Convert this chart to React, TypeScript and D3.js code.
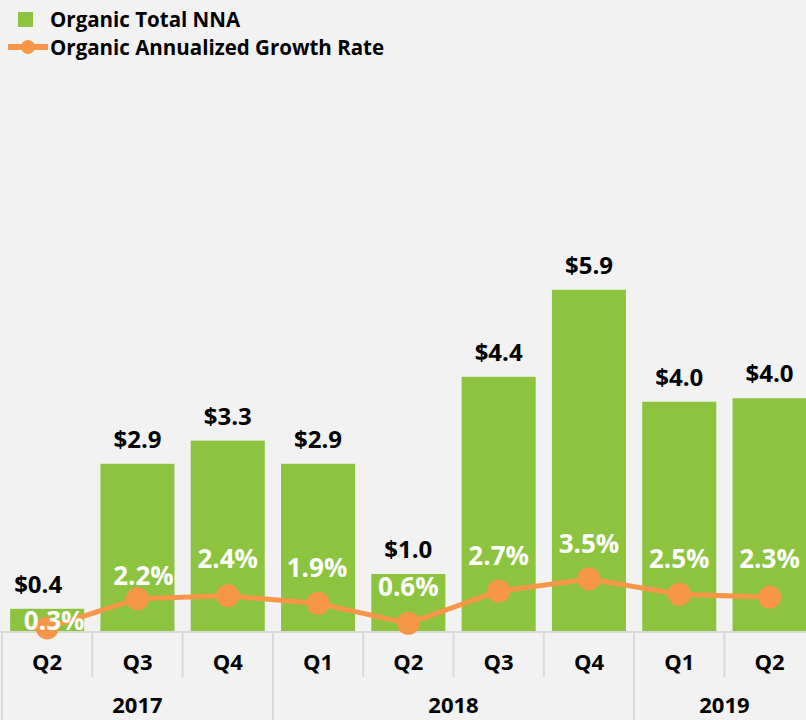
import React from "react";
import * as d3 from "d3";

const quarters = ["Q2", "Q3", "Q4", "Q1", "Q2", "Q3", "Q4", "Q1", "Q2"];
const years = [
  { label: "2017", start: 0, end: 3 },
  { label: "2018", start: 3, end: 7 },
  { label: "2019", start: 7, end: 9 },
];
const nnaValues = [0.4, 2.9, 3.3, 2.9, 1.0, 4.4, 5.9, 3.97, 4.03];
const growthValues = [0.3, 2.2, 2.4, 1.9, 0.6, 2.7, 3.5, 2.5, 2.3];
const pctLabelDx = [7, 6, 0, -1, 0, 0, 0, 0, 0];
const pctLabelDy = [2, -14, -28, -26, -27, -26, -26, -26, -29];
const barLabelDx = [-9, 0, 0, 0, 0, 0, 0, 0, 0];

const W = 806;
const H = 720;
const GREEN = "#8cc43f";
const ORANGE = "#f79646";
const GRID = "#d9d9d9";
const FONT = "'Open Sans', sans-serif";

export default function App() {
  const idx = quarters.map((_, i) => i);
  const x = d3
    .scaleBand<number>()
    .domain(idx)
    .range([2, 814.7])
    .paddingInner(0.18)
    .paddingOuter(0.09);
  const step = x.step();
  const yBar = d3.scaleLinear().domain([0, 10]).range([632, 52]);
  const yPct = d3.scaleLinear().domain([0, 4]).range([632.5, 571.3]);
  const cx = (i: number) => (x(0) as number) + i * step + x.bandwidth() / 2;
  const boundary = (i: number) => (x(0) as number) - step * 0.09 + i * step;
  const baseY = yBar(0);

  const line = d3
    .line<number>()
    .x((_, i) => cx(i))
    .y((d) => yPct(d));

  const yearBounds = new Set(years.map((y) => y.start));

  return (
    <svg
      width={W}
      height={H}
      style={{ position: "absolute", left: 0, top: 0, background: "#f2f2f2" }}
      fontFamily={FONT}
    >
      <rect x={0} y={0} width={W} height={H} fill="#f2f2f2" />
      {/* Legend */}
      <rect x={18} y={12} width={15} height={15} fill={GREEN} />
      <text x={50} y={27} fontSize={20.5} fontWeight={700} fill="#000">
        Organic Total NNA
      </text>
      <line x1={8} x2={48} y1={47} y2={47} stroke={ORANGE} strokeWidth={6} />
      <circle cx={28} cy={47} r={7} fill={ORANGE} />
      <text x={50} y={55} fontSize={20.5} fontWeight={700} fill="#000">
        Organic Annualized Growth Rate
      </text>

      {/* Bars */}
      {nnaValues.map((v, i) => (
        <rect
          key={"b" + i}
          x={x(i)}
          y={yBar(v)}
          width={x.bandwidth()}
          height={baseY - yBar(v)}
          fill={GREEN}
        />
      ))}
      {nnaValues.map((v, i) => (
        <text
          key={"bl" + i}
          x={cx(i) + barLabelDx[i]}
          y={yBar(v) - 16}
          textAnchor="middle"
          fontSize={24}
          fontWeight={700}
          fill="#000"
        >
          {"$" + d3.format(".1f")(v)}
        </text>
      ))}

      {/* Axis */}
      <line x1={0} x2={W} y1={baseY} y2={baseY} stroke={GRID} strokeWidth={2} />
      {idx.map((i) => (
        <line
          key={"s" + i}
          x1={boundary(i)}
          x2={boundary(i)}
          y1={baseY}
          y2={yearBounds.has(i) ? H : 677}
          stroke={GRID}
          strokeWidth={2}
        />
      ))}
      {quarters.map((q, i) => (
        <text
          key={"q" + i}
          x={cx(i)}
          y={670}
          textAnchor="middle"
          fontSize={22}
          fontWeight={700}
          fill="#000"
        >
          {q}
        </text>
      ))}
      {years.map((yr) => (
        <text
          key={yr.label}
          x={(boundary(yr.start) + boundary(yr.end)) / 2}
          y={713}
          textAnchor="middle"
          fontSize={22}
          fontWeight={700}
          fill="#000"
        >
          {yr.label}
        </text>
      ))}

      {/* Growth line */}
      <path d={line(growthValues) || ""} fill="none" stroke={ORANGE} strokeWidth={5} />
      {growthValues.map((g, i) => (
        <circle key={"c" + i} cx={cx(i)} cy={yPct(g)} r={11.5} fill={ORANGE} />
      ))}
      {growthValues.map((g, i) => (
        <text
          key={"pl" + i}
          x={cx(i) + pctLabelDx[i]}
          y={yPct(g) + pctLabelDy[i]}
          textAnchor="middle"
          fontSize={26}
          fontWeight={700}
          fill="#fff"
        >
          {d3.format(".1f")(g) + "%"}
        </text>
      ))}
    </svg>
  );
}
